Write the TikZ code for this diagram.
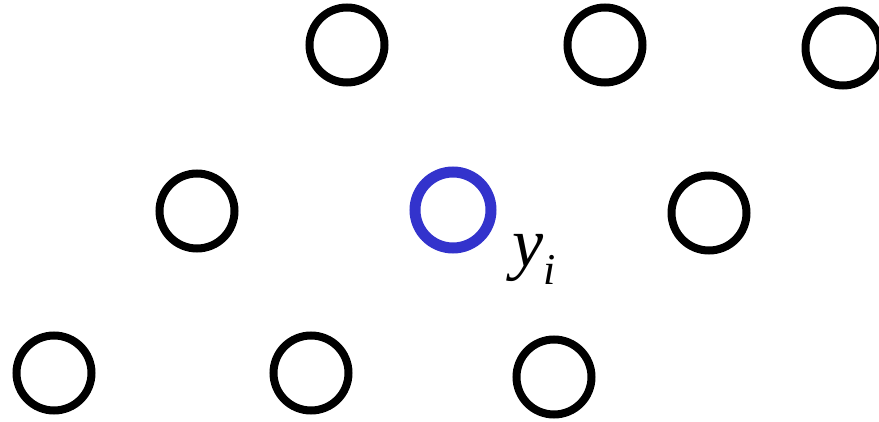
\documentclass[tikz,border=0pt]{standalone}
\usepackage{fontspec}
\setmainfont{Liberation Serif}
\begin{document}
\begin{tikzpicture}[x=1pt,y=-1pt,
  dot/.style={circle,draw=black,line width=8pt,minimum size=75pt,inner sep=0pt},
  bluedot/.style={circle,line width=11pt,minimum size=76pt,inner sep=0pt}]
\definecolor{ringblue}{RGB}{51,51,204}
\useasboundingbox (0,0) rectangle (879,422);
\node[dot] (a1) at (347,45) {};
\node[dot] (a2) at (605,45) {};
\node[dot] (a3) at (843,48) {};
\node[dot] (b1) at (197,211) {};
\node[bluedot,draw=ringblue] (b2) at (453,210) {};
\node[dot] (b3) at (709,213) {};
\node[dot] (c1) at (54,373) {};
\node[dot] (c2) at (311,373) {};
\node[dot] (c3) at (554,377) {};
\node[anchor=base west,inner sep=0pt] (lbl) at (512,267) {\fontsize{70}{70}\selectfont\itshape y\raisebox{-18pt}{\fontsize{44}{44}\selectfont i}};
\end{tikzpicture}
\end{document}
